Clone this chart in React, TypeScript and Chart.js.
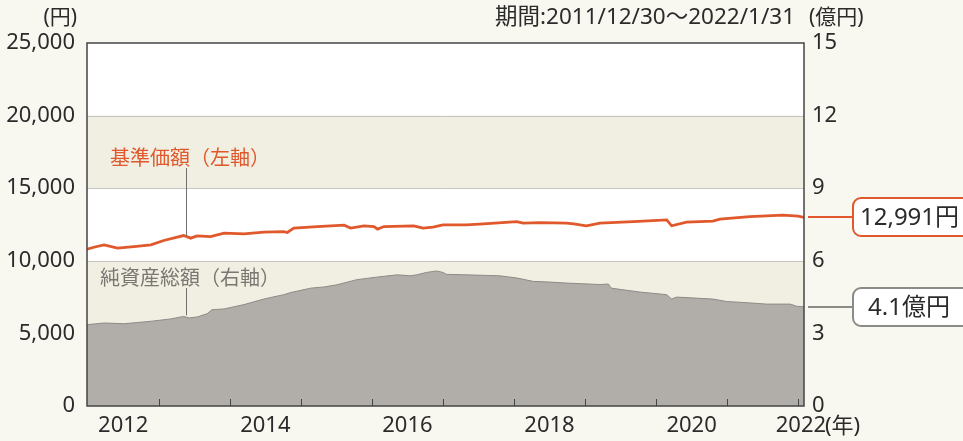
import React, { useEffect, useRef } from "react";
import { Chart, registerables } from "chart.js";

Chart.register(...registerables);

// ---- Data (fractional years) ----
const X_MIN = 2011.99; // 2011/12/30
const X_MAX = 2022.083; // 2022/1/31
const YEAR_TICKS = [2013, 2014, 2015, 2016, 2017, 2018, 2019, 2020, 2021, 2022];
const X_LABEL_POS = [2012.5, 2014.5, 2016.5, 2018.5, 2020.5, 2022.04];
const X_LABELS = ["2012", "2014", "2016", "2018", "2020", "2022"];

const PRICE_T = [2011.99, 2012.1, 2012.23, 2012.42, 2012.65, 2012.89, 2013.07, 2013.35, 2013.45, 2013.54, 2013.73, 2013.92, 2014.2, 2014.48, 2014.76, 2014.81, 2014.9, 2015.23, 2015.61, 2015.7, 2015.89, 2016.03, 2016.08, 2016.17, 2016.59, 2016.72, 2016.86, 2017.0, 2017.33, 2017.57, 2018.04, 2018.13, 2018.37, 2018.74, 2018.84, 2019.02, 2019.21, 2019.68, 2020.15, 2020.22, 2020.43, 2020.8, 2020.9, 2021.32, 2021.79, 2022.0, 2022.083];
const PRICE_V = [10800, 10950, 11100, 10870, 10980, 11100, 11400, 11740, 11560, 11720, 11670, 11900, 11860, 11970, 12010, 11950, 12250, 12360, 12450, 12250, 12410, 12360, 12180, 12360, 12410, 12250, 12320, 12470, 12470, 12540, 12700, 12590, 12630, 12590, 12540, 12410, 12590, 12700, 12820, 12410, 12660, 12730, 12870, 13040, 13140, 13080, 12991];

const ASSET_T = [2011.99, 2012.23, 2012.51, 2012.89, 2013.17, 2013.35, 2013.43, 2013.54, 2013.68, 2013.75, 2013.92, 2014.2, 2014.48, 2014.76, 2014.86, 2015.14, 2015.33, 2015.51, 2015.79, 2016.08, 2016.36, 2016.54, 2016.63, 2016.77, 2016.91, 2017.0, 2017.05, 2017.33, 2017.8, 2018.04, 2018.27, 2018.51, 2018.74, 2018.98, 2019.21, 2019.33, 2019.37, 2019.59, 2019.77, 2020.15, 2020.22, 2020.29, 2020.48, 2020.8, 2020.99, 2021.32, 2021.56, 2021.89, 2021.98, 2022.083];
const ASSET_V = [3.36, 3.43, 3.4, 3.5, 3.6, 3.7, 3.64, 3.68, 3.81, 3.98, 4.01, 4.19, 4.42, 4.6, 4.69, 4.87, 4.92, 5.01, 5.22, 5.33, 5.42, 5.38, 5.42, 5.52, 5.58, 5.52, 5.44, 5.42, 5.38, 5.29, 5.15, 5.12, 5.08, 5.05, 5.02, 5.04, 4.87, 4.78, 4.71, 4.6, 4.42, 4.5, 4.47, 4.42, 4.32, 4.26, 4.21, 4.21, 4.12, 4.1];

const BANDS = [[15000, 20000], [5000, 10000]];
const LAST_PRICE_LABEL = "12,991円";
const LAST_ASSET_LABEL = "4.1億円";

const FONT = '"Noto Sans", "Noto Sans CJK JP", sans-serif';
const CJK = '"Noto Sans CJK JP", "Noto Sans", sans-serif';
const ORANGE = "#e0582b";
const GRAY_TXT = "#7a7773";
const TXT = "#2b2b2b";
const BG = "#f8f7f0";

function roundRect(ctx: CanvasRenderingContext2D, x: number, y: number, w: number, h: number, r: number) {
  ctx.beginPath();
  ctx.moveTo(x + r, y);
  ctx.lineTo(x + w - r, y);
  ctx.arcTo(x + w, y, x + w, y + r, r);
  ctx.lineTo(x + w, y + h - r);
  ctx.arcTo(x + w, y + h, x + w - r, y + h, r);
  ctx.lineTo(x + r, y + h);
  ctx.arcTo(x, y + h, x, y + h - r, r);
  ctx.lineTo(x, y + r);
  ctx.arcTo(x, y, x + r, y, r);
  ctx.closePath();
}

const decorPlugin = {
  id: "decor",
  beforeDraw(chart: any) {
    const { ctx, chartArea: a, scales } = chart;
    const y = scales.y;
    ctx.save();
    ctx.fillStyle = BG;
    ctx.fillRect(0, 0, chart.width, chart.height);
    ctx.fillStyle = "#ffffff";
    ctx.fillRect(a.left, a.top, a.right - a.left, a.bottom - a.top);
    ctx.fillStyle = "#f1eee2";
    BANDS.forEach(([lo, hi]) => {
      const y1 = y.getPixelForValue(hi);
      const y2 = y.getPixelForValue(lo);
      ctx.fillRect(a.left, y1, a.right - a.left, y2 - y1);
    });
    ctx.strokeStyle = "#c4c4c4";
    ctx.lineWidth = 1;
    [5000, 10000, 15000, 20000].forEach((v) => {
      const py = Math.round(y.getPixelForValue(v)) + 0.5;
      ctx.beginPath();
      ctx.moveTo(a.left, py);
      ctx.lineTo(a.right, py);
      ctx.stroke();
    });
    ctx.restore();
  },
  afterDatasetsDraw(chart: any) {
    const { ctx, chartArea: a, scales } = chart;
    const x = scales.x;
    const y = scales.y;
    const y1 = scales.y1;
    ctx.save();
    // tick marks
    ctx.strokeStyle = "#444";
    ctx.lineWidth = 1;
    YEAR_TICKS.forEach((t) => {
      const px = Math.round(x.getPixelForValue(t)) + 0.5;
      ctx.beginPath();
      ctx.moveTo(px, a.bottom);
      ctx.lineTo(px, a.bottom - 7);
      ctx.stroke();
    });
    // border
    ctx.strokeStyle = "#444";
    ctx.lineWidth = 1.5;
    ctx.strokeRect(a.left, a.top, a.right - a.left, a.bottom - a.top);

    // leader lines
    ctx.strokeStyle = "#6f6f6f";
    ctx.lineWidth = 1;
    ctx.beginPath();
    ctx.moveTo(186.5, 168);
    ctx.lineTo(186.5, y.getPixelForValue(11700));
    ctx.stroke();
    ctx.beginPath();
    ctx.moveTo(186.5, 288);
    ctx.lineTo(186.5, y1.getPixelForValue(3.75));
    ctx.stroke();

    // series labels
    ctx.font = `20px ${CJK}`;
    ctx.textBaseline = "middle";
    ctx.textAlign = "left";
    ctx.fillStyle = ORANGE;
    ctx.fillText("基準価額（左軸）", 110, 157);
    ctx.fillStyle = GRAY_TXT;
    ctx.fillText("純資産総額（右軸）", 100, 277);

    // titles
    ctx.fillStyle = TXT;
    ctx.font = `21px ${FONT}`;
    ctx.textAlign = "right";
    ctx.fillText("(円)", 77, 18);
    ctx.textAlign = "left";
    ctx.font = `22.5px ${FONT}`;
    ctx.fillText("期間:2011/12/30〜2022/1/31", 495, 18);
    ctx.font = `21px ${FONT}`;
    ctx.fillText("(億円)", 809, 18);
    ctx.font = `22px ${FONT}`;
    ctx.fillText("(年)", 825, 427);

    // callouts
    const pY = Math.round(y.getPixelForValue(PRICE_V[PRICE_V.length - 1]));
    const aY = Math.round(y1.getPixelForValue(ASSET_V[ASSET_V.length - 1]));
    ctx.lineWidth = 2;
    ctx.strokeStyle = ORANGE;
    ctx.beginPath();
    ctx.moveTo(808, pY);
    ctx.lineTo(853, pY);
    ctx.stroke();
    roundRect(ctx, 853, pY - 19, 124, 38, 8);
    ctx.fillStyle = "#ffffff";
    ctx.fill();
    ctx.stroke();
    ctx.strokeStyle = "#8c8a86";
    ctx.beginPath();
    ctx.moveTo(808, aY);
    ctx.lineTo(853, aY);
    ctx.stroke();
    roundRect(ctx, 853, aY - 19, 124, 38, 8);
    ctx.fillStyle = "#ffffff";
    ctx.fill();
    ctx.stroke();
    ctx.fillStyle = TXT;
    ctx.font = `24px ${FONT}`;
    ctx.fillText(LAST_PRICE_LABEL, 860, pY + 1);
    ctx.fillText(LAST_ASSET_LABEL, 868, aY + 1);
    ctx.restore();
  },
};

export default function App() {
  const ref = useRef<HTMLCanvasElement | null>(null);
  useEffect(() => {
    document.body.style.margin = "0";
    document.body.style.background = BG;
    const canvas = ref.current!;
    const chart = new Chart(canvas, {
      type: "line",
      data: {
        datasets: [
          {
            label: "基準価額",
            data: PRICE_T.map((t, i) => ({ x: t, y: PRICE_V[i] })),
            yAxisID: "y",
            borderColor: ORANGE,
            borderWidth: 2.8,
            pointRadius: 0,
            tension: 0,
            fill: false,
            order: 0,
          },
          {
            label: "純資産総額",
            data: ASSET_T.map((t, i) => ({ x: t, y: ASSET_V[i] })),
            yAxisID: "y1",
            borderColor: "#8e8b87",
            backgroundColor: "#b1aeaa",
            borderWidth: 1,
            pointRadius: 0,
            tension: 0,
            fill: "origin",
            order: 1,
          },
        ],
      },
      options: {
        animation: false,
        responsive: false,
        maintainAspectRatio: false,
        layout: { padding: { top: 43, left: 0, right: 0, bottom: 0 } },
        plugins: { legend: { display: false }, tooltip: { enabled: false } },
        scales: {
          x: {
            type: "linear",
            min: X_MIN,
            max: X_MAX,
            grid: { display: false, drawTicks: false },
            border: { display: false },
            afterBuildTicks: (s: any) => {
              s.ticks = X_LABEL_POS.map((v) => ({ value: v }));
            },
            afterFit: (s: any) => {
              s.height = 35;
            },
            ticks: {
              autoSkip: false,
              maxRotation: 0,
              padding: 7,
              color: TXT,
              font: { family: FONT, size: 22 },
              callback: (v: any) => {
                const i = X_LABEL_POS.indexOf(Number(v));
                return i >= 0 ? X_LABELS[i] : "";
              },
            },
          },
          y: {
            position: "left",
            min: 0,
            max: 25000,
            grid: { display: false, drawTicks: false },
            border: { display: false },
            afterFit: (s: any) => {
              s.width = 87;
            },
            ticks: {
              stepSize: 5000,
              padding: 12,
              color: TXT,
              font: { family: FONT, size: 22 },
              callback: (v: any) => Number(v).toLocaleString("en-US"),
            },
          },
          y1: {
            position: "right",
            min: 0,
            max: 15,
            grid: { display: false, drawTicks: false },
            border: { display: false },
            afterFit: (s: any) => {
              s.width = 159;
            },
            ticks: {
              stepSize: 3,
              padding: 8,
              color: TXT,
              font: { family: FONT, size: 22 },
            },
          },
        },
      },
      plugins: [decorPlugin],
    });
    return () => chart.destroy();
  }, []);
  return (
    <div style={{ width: 963, height: 441 }}>
      <canvas ref={ref} width={963} height={441} style={{ display: "block", width: 963, height: 441 }} />
    </div>
  );
}
